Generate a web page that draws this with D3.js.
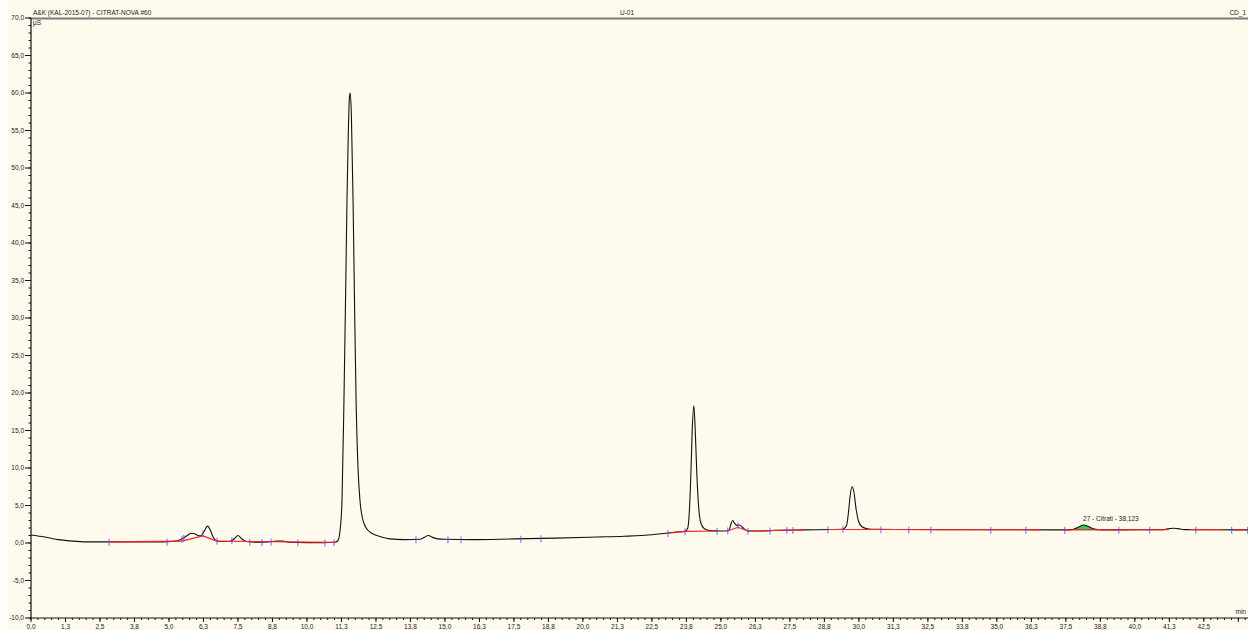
<!DOCTYPE html>
<html><head><meta charset="utf-8">
<script src="https://cdn.jsdelivr.net/npm/d3@7"></script>
<style>html,body{margin:0;padding:0;background:#fffaee;overflow:hidden} svg{display:block}</style>
</head><body>
<svg id="c" width="1248" height="630"></svg>
<script>
// ---- data ----
const traceTime = [0.0,0.5,1.0,1.5,2.0,2.8,3.5,4.5,5.0,5.3,5.5,5.7,5.8,5.95,6.05,6.15,6.25,6.4,6.5,6.6,6.7,6.85,7.2,7.38,7.5,7.62,7.8,8.2,8.6,8.9,9.1,9.4,10.0,10.6,
  11.0,11.12,11.2,11.27,11.34,11.4,11.45,11.5,11.54,11.57,11.61,11.67,11.72,11.78,11.85,11.92,12.0,12.1,12.21,12.4,12.7,13.0,13.5,
  14.1,14.25,14.4,14.55,14.75,15.0,16.0,17.5,19.0,20.5,21.5,22.5,23.0,23.5,
  23.7,23.8,23.86,23.91,23.96,24.02,24.07,24.13,24.2,24.28,24.4,24.6,25.0,
  25.2,25.3,25.37,25.43,25.5,25.58,25.68,25.78,25.9,26.0,26.5,27.0,28.0,29.0,
  29.4,29.55,29.62,29.68,29.75,29.82,29.9,29.98,30.1,30.3,30.6,31.5,33.0,35.0,37.0,
  37.5,37.7,37.85,38.0,38.12,38.25,38.4,38.55,38.7,38.8,40.0,41.0,41.25,41.4,41.55,41.8,43.0,44.2];
const traceValue = [1.07,0.8,0.45,0.25,0.15,0.15,0.15,0.15,0.18,0.3,0.6,1.1,1.3,1.2,1.0,0.95,1.4,2.25,1.7,0.8,0.35,0.2,0.2,0.6,1.0,0.6,0.2,0.1,0.15,0.25,0.25,0.1,0.05,0.05,
  0.1,0.3,1.7,5.7,19,33,45.7,55,59.5,60.0,57,45.7,33,19,10,5.7,3.5,2.3,1.7,1.2,0.8,0.55,0.45,
  0.5,0.75,1.0,0.75,0.55,0.5,0.45,0.55,0.65,0.8,0.9,1.1,1.3,1.5,
  1.55,2.0,4.5,9,15,18.3,15,9,4.5,2.6,1.9,1.65,1.6,
  1.6,1.75,2.6,3.0,2.6,2.35,2.4,2.1,1.7,1.6,1.6,1.7,1.75,1.8,
  1.82,2.3,4,6.2,7.5,6.8,4.5,3.0,2.2,1.9,1.82,1.8,1.78,1.77,1.75,
  1.75,1.78,1.95,2.2,2.4,2.3,2.05,1.85,1.76,1.75,1.76,1.78,1.92,1.97,1.92,1.78,1.76,1.75];
// integration baselines: [t0, v0, t1, v1]
const baselineSegments = [[2.83,0.15,5.47,0.25],[5.47,0.25,6.23,0.95],[6.23,0.95,6.74,0.25],[6.74,0.25,11.0,0.08],
  [23.08,1.3,23.7,1.55],[23.7,1.55,24.86,1.6],[25.25,1.6,25.62,2.1],[25.62,2.1,25.98,1.6],[25.98,1.6,28.0,1.75],
  [28.9,1.8,30.8,1.8],[30.8,1.8,36.6,1.75],[37.46,1.75,41.2,1.76],[42.0,1.78,43.2,1.76],[43.6,1.75,44.2,1.75]];
const markerTimes = [2.83,4.93,5.47,5.54,6.23,6.74,7.28,7.93,8.37,8.70,9.67,10.65,10.98,13.95,15.11,15.58,17.75,18.48,
  23.08,23.70,24.86,25.25,25.62,25.98,26.78,27.39,27.61,28.88,29.42,30.80,31.81,32.61,34.78,36.05,37.46,39.42,40.54,42.21,43.51,44.09];
const citrateRange = [37.75, 38.65];
const citrateBase = [1.75];
const peakLabels = ["27 - Citrati - 38,123"];
const peakLabelTime = [38.123];
const xTickValues = [0,1.25,2.5,3.75,5,6.25,7.5,8.75,10,11.25,12.5,13.75,15,16.25,17.5,18.75,20,21.25,22.5,23.75,25,26.25,27.5,28.75,30,31.25,32.5,33.75,35,36.25,37.5,38.75,40,41.25,42.5,43.75];
const xTickLabels = ["0,0","1,3","2,5","3,8","5,0","6,3","7,5","8,8","10,0","11,3","12,5","13,8","15,0","16,3","17,5","18,8","20,0","21,3","22,5","23,8","25,0","26,3","27,5","28,8","30,0","31,3","32,5","33,8","35,0","36,3","37,5","38,8","40,0","41,3","42,5",""];
const yTickValues = [-10,-5,0,5,10,15,20,25,30,35,40,45,50,55,60,65,70];
const yTickLabels = ["-10,0","-5,0","0,0","5,0","10,0","15,0","20,0","25,0","30,0","35,0","40,0","45,0","50,0","55,0","60,0","65,0","70,0"];
const titleLeft = "A&K (KAL-2015-07) - CITRAT-NOVA #60";
const titleCenter = "U-01";
const titleRight = "CD_1";
const yUnit = "µS";
const xUnit = "min";

// ---- drawing ----
const svg = d3.select("#c");
const FONT = "Liberation Sans, Arial, sans-serif";
svg.append("rect").attr("x",0).attr("y",0).attr("width",1248).attr("height",630).attr("fill","#fffaee");
svg.append("rect").attr("x",0).attr("y",0).attr("width",8).attr("height",630).attr("fill","#fffdf8");

const x = d3.scaleLinear().domain([0, 44.1]).range([31, 1248]);
const y = d3.scaleLinear().domain([-10, 70]).range([618, 18]);

const pts = traceTime.map((t,i)=>[t, traceValue[i]]);
const interp = t => {
  const i = d3.bisector(d=>d[0]).right(pts, t);
  if (i<=0) return pts[0][1];
  if (i>=pts.length) return pts[pts.length-1][1];
  const a = pts[i-1], b = pts[i];
  return a[1] + (b[1]-a[1])*(t-a[0])/(b[0]-a[0]);
};

// top line
svg.append("line").attr("x1",31).attr("x2",1248).attr("y1",18.5).attr("y2",18.5)
  .attr("stroke","#7a7a7a").attr("stroke-width",2);

// titles
svg.append("text").attr("x",33).attr("y",15).text(titleLeft).attr("font-family",FONT).attr("font-size",6.5).attr("fill","#222");
svg.append("text").attr("x",627).attr("y",15).attr("text-anchor","middle").text(titleCenter).attr("font-family",FONT).attr("font-size",6.5).attr("fill","#222");
svg.append("text").attr("x",1246).attr("y",15).attr("text-anchor","end").text(titleRight).attr("font-family",FONT).attr("font-size",6.5).attr("fill","#222");
svg.append("text").attr("x",33).attr("y",25).text(yUnit).attr("font-family",FONT).attr("font-size",6.5).attr("fill","#222");
svg.append("text").attr("x",1246).attr("y",614).attr("text-anchor","end").text(xUnit).attr("font-family",FONT).attr("font-size",6.5).attr("fill","#222");

// green citrate peak area
const cpts = [[citrateRange[0], interp(citrateRange[0])]]
  .concat(pts.filter(p=>p[0]>citrateRange[0] && p[0]<citrateRange[1]))
  .concat([[citrateRange[1], interp(citrateRange[1])]]);
svg.append("path").datum(cpts)
  .attr("d", d3.area().x(d=>x(d[0])).y0(y(citrateBase[0])).y1(d=>y(d[1])).curve(d3.curveMonotoneX))
  .attr("fill","#2fcf55");

// trace
svg.append("path").datum(pts)
  .attr("d", d3.line().x(d=>x(d[0])).y(d=>y(d[1])).curve(d3.curveMonotoneX))
  .attr("fill","none").attr("stroke","#111").attr("stroke-width",1.1);

// baselines
svg.append("g").selectAll("line").data(baselineSegments).join("line")
  .attr("x1",d=>x(d[0])).attr("y1",d=>y(d[1])).attr("x2",d=>x(d[2])).attr("y2",d=>y(d[3]))
  .attr("stroke","#ff2020").attr("stroke-width",1.1);

// markers
svg.append("g").selectAll("line").data(markerTimes).join("line")
  .attr("x1",d=>x(d)).attr("x2",d=>x(d))
  .attr("y1",d=>y(interp(d))-3).attr("y2",d=>y(interp(d))+4)
  .attr("stroke","#4848ff").attr("stroke-opacity",0.8).attr("stroke-width",1);

// peak label
svg.append("g").selectAll("text").data(peakLabels).join("text")
  .attr("x",(d,i)=>x(peakLabelTime[i])).attr("y",(d,i)=>y(interp(peakLabelTime[i]))-4)
  .text(d=>d).attr("font-family",FONT).attr("font-size",6.5).attr("fill","#222");

// axes
const yAxis = svg.append("g").attr("transform","translate(31,0)");
yAxis.append("line").attr("x1",0).attr("x2",0).attr("y1",18).attr("y2",618).attr("stroke","#111").attr("stroke-width",1.2);
yAxis.selectAll(".ymin").data(d3.range(-10,71,1)).join("line")
  .attr("x1",-2.5).attr("x2",0).attr("y1",d=>y(d)).attr("y2",d=>y(d)).attr("stroke","#111");
yAxis.selectAll(".ymaj").data(yTickValues).join("line")
  .attr("x1",-6).attr("x2",0).attr("y1",d=>y(d)).attr("y2",d=>y(d)).attr("stroke","#111");
yAxis.selectAll("text").data(yTickValues).join("text")
  .attr("x",-7).attr("y",d=>y(d)+2.3).attr("text-anchor","end")
  .text((d,i)=>yTickLabels[i]).attr("font-family",FONT).attr("font-size",6.5).attr("fill","#222");

const xAxis = svg.append("g").attr("transform","translate(0,618)");
xAxis.append("line").attr("x1",31).attr("x2",1248).attr("y1",0).attr("y2",0).attr("stroke","#111").attr("stroke-width",1.2);
xAxis.selectAll(".xmin").data(d3.range(0,44.1,0.25)).join("line")
  .attr("x1",d=>x(d)).attr("x2",d=>x(d)).attr("y1",0).attr("y2",2).attr("stroke","#111");
xAxis.selectAll(".xmaj").data(xTickValues).join("line")
  .attr("x1",d=>x(d)).attr("x2",d=>x(d)).attr("y1",0).attr("y2",4).attr("stroke","#111");
xAxis.selectAll("text").data(xTickValues).join("text")
  .attr("x",d=>x(d)).attr("y",10.5).attr("text-anchor","middle")
  .text((d,i)=>xTickLabels[i]).attr("font-family",FONT).attr("font-size",6.5).attr("fill","#222");
</script>
</body></html>
